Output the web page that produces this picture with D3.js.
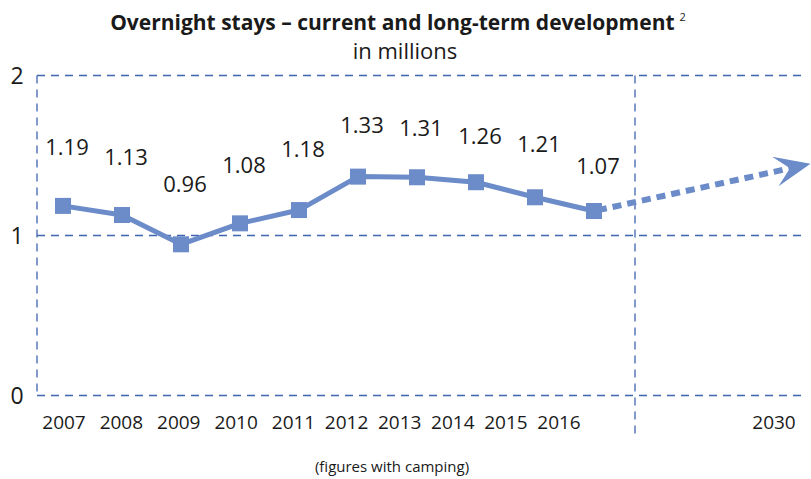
<!DOCTYPE html>
<html><head><meta charset="utf-8">
<script src="https://cdn.jsdelivr.net/npm/d3@7"></script>
<style>
html,body{margin:0;padding:0;background:#fff;}
svg{display:block;font-family:"Open Sans",sans-serif;}
</style></head>
<body>
<svg id="chart" width="811" height="479"></svg>
<script>
// ---- data ----
const years = [2007, 2008, 2009, 2010, 2011, 2012, 2013, 2014, 2015, 2016];
const plotted = [1.185, 1.128, 0.945, 1.076, 1.159, 1.368, 1.364, 1.333, 1.239, 1.153];
const valueLabels = ["1.19", "1.13", "0.96", "1.08", "1.18", "1.33", "1.31", "1.26", "1.21", "1.07"];
const forecastYear = 2030;
const forecastValue = 1.42;
const yTicks = [0, 1, 2];
const yearTickLabels = ["2007","2008","2009","2010","2011","2012","2013","2014","2015","2016","2030"];
const title = "Overnight stays \u2013 current and long-term development";
const subtitle = "in millions";
const footnote = "(figures with camping)";

// ---- layout ----
const svg = d3.select("#chart");
const lineColor = "#6b8bc9";
const gridColor = "#3f64b0";
const textColor = "#1a1a1a";

const y = d3.scaleLinear().domain([0, 2]).range([395.5, 75.5]);
const x = d3.scaleLinear().domain([2007, 2016, 2030]).range([63, 594, 790]);
const xLab = d3.scaleLinear().domain([2007, 2011, 2016, 2030]).range([64, 293.5, 559, 774]);
const left = 37, right = 806, divider = 635;

// grid
const grid = svg.append("g");
grid.selectAll("line.h").data(yTicks).join("line")
  .attr("x1", left).attr("x2", right)
  .attr("y1", d => y(d)).attr("y2", d => y(d))
  .attr("stroke", gridColor).attr("stroke-width", 1.3).attr("stroke-dasharray", "8,6");
grid.append("line").attr("x1", left).attr("x2", left).attr("y1", y(2)).attr("y2", y(0))
  .attr("stroke", gridColor).attr("stroke-width", 1.3).attr("stroke-dasharray", "8,6");
grid.append("line").attr("x1", divider).attr("x2", divider).attr("y1", y(2)).attr("y2", y(0) + 42)
  .attr("stroke", gridColor).attr("stroke-width", 1.3).attr("stroke-dasharray", "8,6");

// y labels
svg.append("g").selectAll("text").data(yTicks).join("text")
  .attr("x", 17).attr("y", d => y(d)).attr("dy", "0.36em")
  .attr("text-anchor", "middle").attr("font-size", 23).attr("fill", textColor)
  .text(d => d);

// x labels
svg.append("g").selectAll("text").data(years.concat([forecastYear])).join("text")
  .attr("x", d => xLab(d)).attr("y", 429)
  .attr("text-anchor", "middle").attr("font-size", 19).attr("fill", textColor)
  .text((d, i) => yearTickLabels[i]);

// arrow marker
const defs = svg.append("defs");
defs.append("marker").attr("id", "arrow").attr("markerUnits", "userSpaceOnUse")
  .attr("viewBox", "-16 -16 38 32").attr("refX", 0).attr("refY", 0)
  .attr("markerWidth", 38).attr("markerHeight", 32).attr("orient", "auto")
  .append("path").attr("d", "M21,0 L-15,-15 L0,0 L-15,15 Z").attr("fill", lineColor);

// forecast dashed line
const last = years.length - 1;
svg.append("path")
  .datum([[years[last], plotted[last]], [forecastYear, forecastValue]])
  .attr("d", d3.line().x(d => x(d[0])).y(d => y(d[1])))
  .attr("fill", "none").attr("stroke", lineColor).attr("stroke-width", 6)
  .attr("stroke-dasharray", "9,6").attr("stroke-dashoffset", -4)
  .attr("marker-end", "url(#arrow)");

// main line
const pts = years.map((yr, i) => [yr, plotted[i]]);
svg.append("path").datum(pts)
  .attr("d", d3.line().x(d => x(d[0])).y(d => y(d[1])))
  .attr("fill", "none").attr("stroke", lineColor).attr("stroke-width", 5)
  .attr("stroke-linejoin", "round");

const sq = 16;
svg.append("g").selectAll("rect").data(pts).join("rect")
  .attr("x", d => x(d[0]) - sq / 2).attr("y", d => y(d[1]) - sq / 2)
  .attr("width", sq).attr("height", sq).attr("fill", lineColor);

// value labels
svg.append("g").selectAll("text").data(valueLabels).join("text")
  .attr("x", (d, i) => x(years[i]) + 4)
  .attr("y", d => y(+d) - 58).attr("dy", "0.36em")
  .attr("text-anchor", "middle").attr("font-size", 22).attr("fill", textColor)
  .text(d => d);

// titles
const t = svg.append("text").attr("x", 398).attr("y", 30).attr("text-anchor", "middle")
  .attr("font-size", 21).attr("font-weight", "bold").attr("fill", textColor);
t.append("tspan").text(title);
t.append("tspan").attr("font-size", 11).attr("font-weight", "normal").attr("dx", 5).attr("dy", -9).text("2");
svg.append("text").attr("x", 405).attr("y", 59).attr("text-anchor", "middle")
  .attr("font-size", 22).attr("fill", textColor).text(subtitle);
svg.append("text").attr("x", 392).attr("y", 472).attr("text-anchor", "middle")
  .attr("font-size", 15).attr("fill", textColor).text(footnote);
</script>
</body></html>
